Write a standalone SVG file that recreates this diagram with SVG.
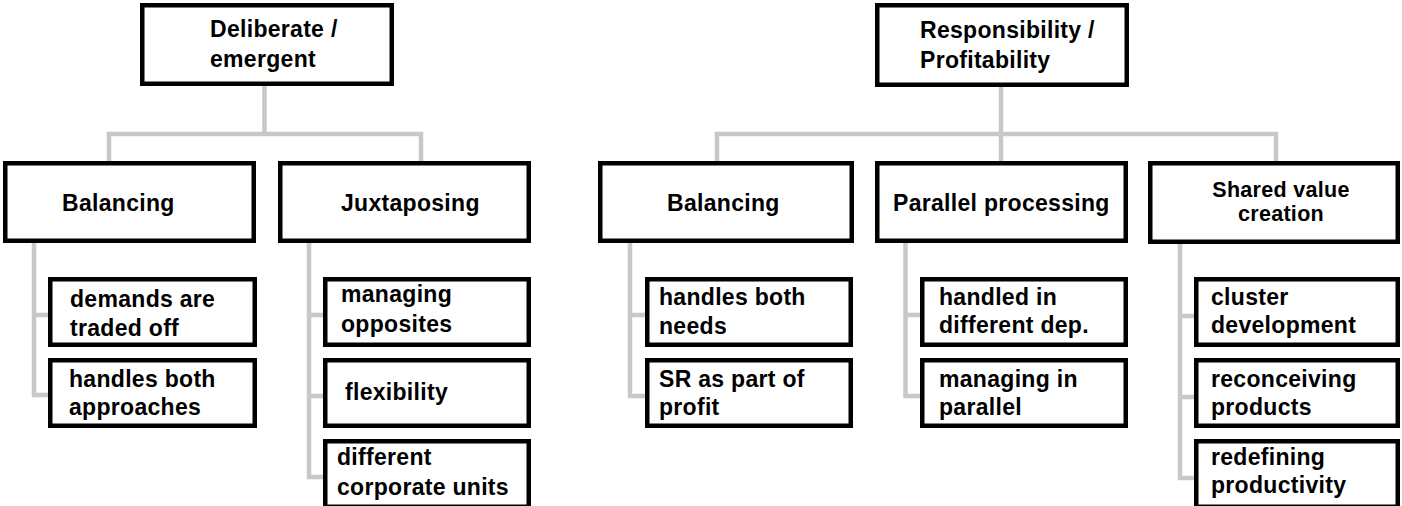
<svg xmlns="http://www.w3.org/2000/svg" width="1402" height="506" viewBox="0 0 1402 506">
<style>
.box{fill:#fff;stroke:#000;stroke-width:4.5}
.con{fill:none;stroke:#c8c8c8;stroke-width:4.5;stroke-linejoin:miter}
text{font-family:"Liberation Sans",Arial,sans-serif;font-weight:bold;font-size:23px;letter-spacing:0.3px;fill:#000}
.tight{font-size:21.5px}
</style>
<rect width="1402" height="506" fill="#fff"/>
<g id="connectors">
<path class="con" d="M264.5 86V134M109 161V134H421V161"/>
<path class="con" d="M1001 87V134M717 161V134H1276V161M1001 134V161"/>
<path class="con" d="M34 243V395H48M34 315H48"/>
<path class="con" d="M309 243V477H323M309 315H323M309 396H323"/>
<path class="con" d="M630 243V396H645M630 315H645"/>
<path class="con" d="M905.5 243V396H920M905.5 315H920"/>
<path class="con" d="M1180 244V478H1194M1180 316H1194M1180 397H1194"/>
</g>
<g id="root-left"><rect class="box" x="142.25" y="5.25" width="249.5" height="78.5"/><text x="210" y="37">Deliberate /</text><text x="210" y="67">emergent</text></g>
<g id="root-right"><rect class="box" x="877.25" y="5.25" width="249.5" height="79.5"/><text x="920" y="38">Responsibility /</text><text x="920" y="68">Profitability</text></g>
<g id="balancing-left"><rect class="box" x="5.25" y="163.25" width="248.5" height="77.5"/><text x="62" y="211">Balancing</text></g>
<g id="juxtaposing"><rect class="box" x="280.25" y="163.25" width="248.5" height="77.5"/><text x="341" y="211">Juxtaposing</text></g>
<g id="balancing-right"><rect class="box" x="600.25" y="163.25" width="251.5" height="77.5"/><text x="667" y="211">Balancing</text></g>
<g id="parallel-processing"><rect class="box" x="877.25" y="163.25" width="248.5" height="77.5"/><text x="893" y="211">Parallel processing</text></g>
<g id="shared-value"><rect class="box" x="1150.25" y="163.25" width="247.5" height="78.5"/><text class="tight" x="1281" y="197" text-anchor="middle">Shared value</text><text class="tight" x="1281" y="221" text-anchor="middle">creation</text></g>
<g id="demands"><rect class="box" x="50.25" y="279.25" width="204.5" height="65.5"/><text x="70" y="307">demands are</text><text x="70" y="336">traded off</text></g>
<g id="handles-approaches"><rect class="box" x="50.25" y="360.25" width="204.5" height="65.5"/><text x="69" y="387">handles both</text><text x="69" y="415">approaches</text></g>
<g id="managing-opposites"><rect class="box" x="325.25" y="279.25" width="203.5" height="65.5"/><text x="341" y="302">managing</text><text x="341" y="332">opposites</text></g>
<g id="flexibility"><rect class="box" x="325.25" y="360.25" width="203.5" height="65.5"/><text x="345" y="400">flexibility</text></g>
<g id="corporate-units"><rect class="box" x="325.25" y="441.25" width="203.5" height="65.5"/><text x="337" y="465">different</text><text x="337" y="495">corporate units</text></g>
<g id="handles-needs"><rect class="box" x="647.25" y="279.25" width="203.5" height="65.5"/><text x="659" y="305">handles both</text><text x="659" y="334">needs</text></g>
<g id="sr-profit"><rect class="box" x="647.25" y="360.25" width="203.5" height="65.5"/><text x="659" y="387">SR as part of</text><text x="659" y="415">profit</text></g>
<g id="handled-dep"><rect class="box" x="922.25" y="279.25" width="203.5" height="65.5"/><text x="939" y="305">handled in</text><text x="939" y="333">different dep.</text></g>
<g id="managing-parallel"><rect class="box" x="922.25" y="360.25" width="203.5" height="65.5"/><text x="939" y="387">managing in</text><text x="939" y="415">parallel</text></g>
<g id="cluster"><rect class="box" x="1196.25" y="279.25" width="201.5" height="65.5"/><text x="1211" y="305">cluster</text><text x="1211" y="333">development</text></g>
<g id="reconceiving"><rect class="box" x="1196.25" y="360.25" width="201.5" height="65.5"/><text x="1211" y="387">reconceiving</text><text x="1211" y="415">products</text></g>
<g id="redefining"><rect class="box" x="1196.25" y="441.25" width="201.5" height="65.5"/><text x="1211" y="465">redefining</text><text x="1211" y="493">productivity</text></g>
</svg>
